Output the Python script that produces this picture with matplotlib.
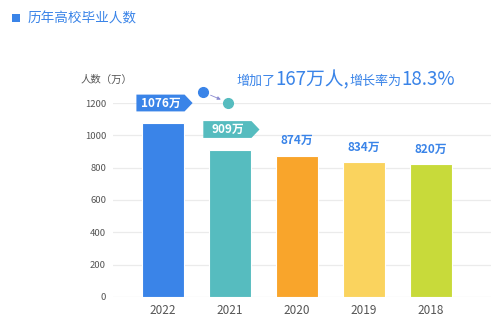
import matplotlib
matplotlib.use('Agg')
import matplotlib.pyplot as plt
from matplotlib.patches import Polygon, Rectangle

plt.rcParams['font.family'] = ['Noto Sans CJK SC', 'DejaVu Sans']

years = ['2022', '2021', '2020', '2019', '2018']
grads = [1076, 909, 874, 834, 820]
colors = ['#3a84e8', '#56bcbf', '#f9a52b', '#fad35e', '#c8da3a']
yticks = [0, 200, 400, 600, 800, 1000, 1200]
title = '历年高校毕业人数'
ylabel = '人数（万）'
increase = 167
rate = 18.3

blue = '#3a84e8'
gray = '#555555'

fig = plt.figure(figsize=(5.0, 3.27), dpi=100)
ax = fig.add_axes([0.226, 0.092, 0.756, 0.593])

x = list(range(len(years)))
ax.bar(x, grads, width=0.63, color=colors, edgecolor='white', linewidth=0.8, zorder=3)

ax.set_xlim(-0.75, 4.9)
ax.set_ylim(0, 1200)
ax.set_yticks(yticks)
ax.set_yticklabels([str(v) for v in yticks], fontsize=6.8, color=gray)
ax.set_xticks(x)
ax.set_xticklabels(years, fontsize=8.5, color=gray)
ax.tick_params(length=0, axis='y', pad=5)
ax.tick_params(length=0, axis='x', pad=5)
ax.grid(axis='y', color='#ebebeb', linewidth=0.9, zorder=0)
for s in ax.spines.values():
    s.set_visible(False)

# value tags: arrow-shaped for the two newest years, plain text for the rest
tag_y = [1200, 1036]
for i in range(2):
    yc = tag_y[i]
    h = 52
    pts = [(i - 0.40, yc - h), (i + 0.32, yc - h), (i + 0.44, yc),
           (i + 0.32, yc + h), (i - 0.40, yc + h)]
    ax.add_patch(Polygon(pts, closed=True, facecolor=colors[i], edgecolor='none',
                         zorder=5, clip_on=False))
    ax.text(i - 0.04, yc, f'{grads[i]}万', ha='center', va='center', fontsize=8.5,
            fontweight='bold', color='white', zorder=6)
for i in range(2, len(years)):
    ax.annotate(f'{grads[i]}万', (i, grads[i]), xytext=(0, 6), textcoords='offset points',
                ha='center', va='bottom', fontsize=8.5, fontweight='bold', color=blue)

# dots with a small arrow linking them
ax.plot([0.60], [1268], 'o', ms=7, color=blue, clip_on=False, zorder=6)
ax.plot([0.97], [1200], 'o', ms=7, color='#56bcbf', clip_on=False, zorder=6)
ax.annotate('', xy=(0.90, 1215), xytext=(0.67, 1255),
            arrowprops=dict(arrowstyle='-|>', color='#8a8ad0', lw=0.6,
                            mutation_scale=5), annotation_clip=False)

# growth note in mixed font sizes, chained on a shared baseline
pieces = [('增加了', 9.4), (f'{increase}万人,', 13.5), ('增长率为', 9.4), (f'{rate}%', 13.5)]
base_y = 1310
prev = ax.text(1.10, base_y, pieces[0][0], fontsize=pieces[0][1], color=blue,
               va='baseline', ha='left', clip_on=False)
for txt, size in pieces[1:]:
    prev = ax.annotate(txt, xy=(1, base_y), xycoords=(prev, ax.transData),
                       fontsize=size, color=blue, va='baseline', ha='left',
                       annotation_clip=False)

fig.text(0.162, 0.755, ylabel, fontsize=7.5, color=gray, ha='left', va='center')

# header
fig.patches.append(Rectangle((0.024, 0.932), 0.016, 0.025, transform=fig.transFigure,
                             facecolor=blue, edgecolor='none'))
fig.text(0.056, 0.945, title, fontsize=9.8, color=blue, va='center', ha='left')

fig.savefig('out.png', dpi=100)
